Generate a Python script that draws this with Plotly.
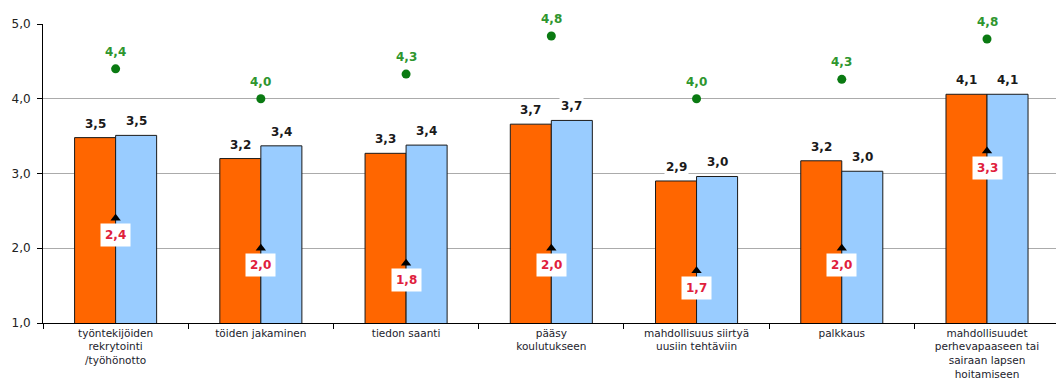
import plotly.graph_objects as go

categories = [
    "työntekijöiden<br>rekrytointi<br>/työhönotto",
    "töiden jakaminen",
    "tiedon saanti",
    "pääsy<br>koulutukseen",
    "mahdollisuus siirtyä<br>uusiin tehtäviin",
    "palkkaus",
    "mahdollisuudet<br>perhevapaaseen tai<br>sairaan lapsen<br>hoitamiseen",
]
orange_values = [3.48, 3.20, 3.27, 3.66, 2.90, 3.17, 4.06]
blue_values = [3.51, 3.37, 3.38, 3.71, 2.96, 3.03, 4.06]
green_values = [4.40, 4.00, 4.33, 4.84, 4.00, 4.26, 4.80]
arrow_values = [2.4, 2.0, 1.8, 2.0, 1.7, 2.0, 3.3]
y_ticks = [1, 2, 3, 4, 5]

ORANGE = "#FF6600"
BLUE = "#99CCFF"
GREEN_DOT = "#0A7A12"
GREEN_TEXT = "#2E962E"
RED_TEXT = "#E0203C"
LABEL_FONT = "DejaVu Sans"

bar_width = 0.2825


def fmt(v):
    return f"{v:.1f}".replace(".", ",")


fig = go.Figure()
fig.add_trace(go.Bar(
    x=categories, y=orange_values,
    marker=dict(color=ORANGE, line=dict(color="#1a1a1a", width=1)),
    hoverinfo="skip",
))
fig.add_trace(go.Bar(
    x=categories, y=blue_values,
    marker=dict(color=BLUE, line=dict(color="#1a1a1a", width=1)),
    hoverinfo="skip",
))
fig.add_trace(go.Scatter(
    x=categories, y=green_values, mode="markers",
    marker=dict(symbol="circle", size=9, color=GREEN_DOT),
    hoverinfo="skip",
))
fig.add_trace(go.Scatter(
    x=categories, y=arrow_values, mode="markers",
    marker=dict(symbol="triangle-up", size=9, color="black"),
    hoverinfo="skip",
))

annotations = []
for i in range(len(categories)):
    annotations.append(dict(
        x=i - bar_width / 2, y=orange_values[i], text=fmt(orange_values[i]),
        xref="x", yref="y", showarrow=False, yanchor="bottom", yshift=5,
        bgcolor="white", borderpad=1,
        font=dict(family=LABEL_FONT, size=12, color="#1a1a1a", weight="bold"),
    ))
    annotations.append(dict(
        x=i + bar_width / 2, y=blue_values[i], text=fmt(blue_values[i]),
        xref="x", yref="y", showarrow=False, yanchor="bottom", yshift=5,
        bgcolor="white", borderpad=1,
        font=dict(family=LABEL_FONT, size=12, color="#1a1a1a", weight="bold"),
    ))
    annotations.append(dict(
        x=i, y=green_values[i], text=fmt(green_values[i]),
        xref="x", yref="y", showarrow=False, yanchor="middle", yshift=17,
        bgcolor="white", borderpad=1,
        font=dict(family=LABEL_FONT, size=12, color=GREEN_TEXT, weight="bold"),
    ))
    annotations.append(dict(
        x=i, y=arrow_values[i], text=fmt(arrow_values[i]),
        xref="x", yref="y", showarrow=False, yanchor="middle", yshift=-17,
        bgcolor="white", borderpad=4,
        font=dict(family=LABEL_FONT, size=12, color=RED_TEXT, weight="bold"),
    ))

fig.update_layout(
    width=1056, height=381,
    margin=dict(l=43, r=0, t=24, b=58),
    barmode="group", bargap=0.435, bargroupgap=0,
    paper_bgcolor="white", plot_bgcolor="white",
    showlegend=False,
    separators=", ",
    annotations=annotations,
    font=dict(family=LABEL_FONT, size=12, color="#222222"),
)
fig.update_xaxes(
    type="category", range=[-0.5, 6.475], automargin=False,
    tickson="boundaries", ticks="outside", ticklen=5, tickcolor="black",
    ticklabelstandoff=0,
    showline=True, linecolor="black", linewidth=1,
    showgrid=False,
    tickfont=dict(family=LABEL_FONT, size=10.5, color="#1c1c2c"),
)
fig.update_yaxes(
    range=[1, 5], tickvals=y_ticks, tickformat=".1f", automargin=False,
    ticks="outside", ticklen=5, tickcolor="black",
    ticklabelstandoff=4,
    showline=True, linecolor="black", linewidth=1,
    showgrid=True, gridcolor="#ABABAB", gridwidth=1, zeroline=False,
    tickfont=dict(family=LABEL_FONT, size=12, color="#222222"),
)

fig.write_html("out.html")
